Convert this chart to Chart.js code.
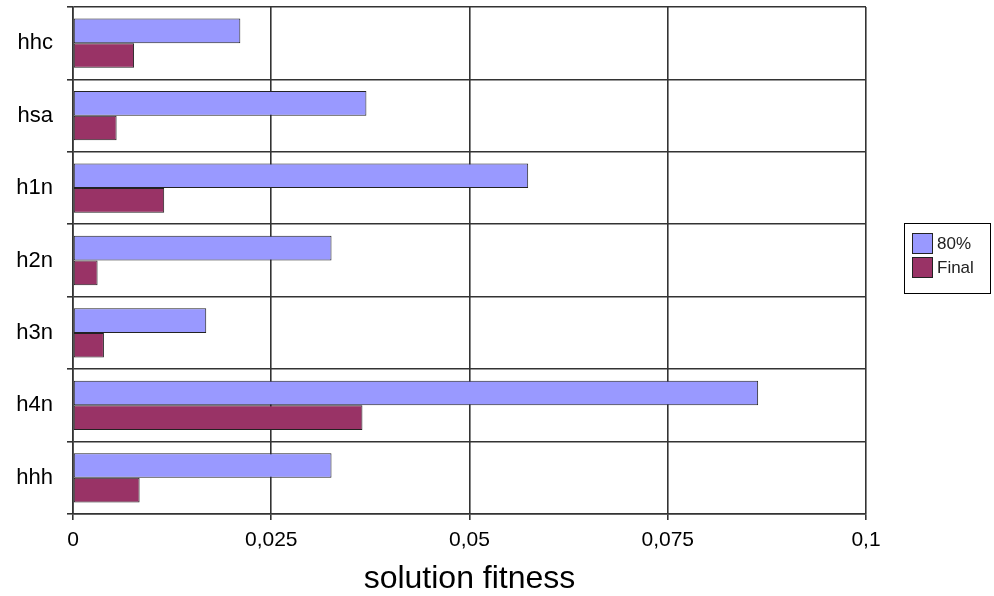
<!DOCTYPE html>
<html>
<head>
<meta charset="utf-8">
<script src="https://cdn.jsdelivr.net/npm/chart.js"></script>
<style>
    html, body { margin: 0; padding: 0; background: #fff; }
    canvas { display: block; }
</style>
</head>
<body>
<canvas id="fitnessChart" width="994" height="596"></canvas>
<script>
    // Heuristics and their fitness at 80% of the run and at the end
    const categories = ['hhc', 'hsa', 'h1n', 'h2n', 'h3n', 'h4n', 'hhh'];
    const fitness80 = [0.0211, 0.0370, 0.0574, 0.0326, 0.0168, 0.0864, 0.0326];
    const fitnessFinal = [0.0077, 0.0055, 0.0115, 0.0031, 0.0039, 0.0365, 0.0084];
    const xTicks = [0, 0.025, 0.05, 0.075, 0.1];

    const FONT = "'Liberation Sans', Arial, sans-serif";
    const LINE = '#333';

    // Boxed legend to the right of the plot
    const boxLegend = {
        id: 'boxLegend',
        afterDraw(chart) {
            const ctx = chart.ctx;
            const left = 904, top = 223, w = 86, h = 70;
            ctx.save();
            ctx.strokeStyle = '#000';
            ctx.lineWidth = 1;
            ctx.strokeRect(left + 0.5, top + 0.5, w, h);
            ctx.font = '17px ' + FONT;
            ctx.textBaseline = 'middle';
            chart.data.datasets.forEach((ds, i) => {
                const y = top + 10 + i * 24;
                ctx.fillStyle = ds.backgroundColor;
                ctx.fillRect(left + 8.5, y + 0.5, 20, 20);
                ctx.strokeStyle = '#222';
                ctx.strokeRect(left + 8.5, y + 0.5, 20, 20);
                ctx.fillStyle = '#222';
                ctx.fillText(ds.label, left + 33, y + 11);
            });
            ctx.restore();
        }
    };

    new Chart(document.getElementById('fitnessChart'), {
        type: 'bar',
        data: {
            labels: categories,
            datasets: [
                {
                    label: '80%',
                    data: fitness80,
                    backgroundColor: '#9999FF',
                    borderColor: '#222',
                    borderWidth: 1,
                    borderSkipped: false
                },
                {
                    label: 'Final',
                    data: fitnessFinal,
                    backgroundColor: '#993366',
                    borderColor: '#222',
                    borderWidth: 1,
                    borderSkipped: false
                }
            ]
        },
        options: {
            indexAxis: 'y',
            responsive: false,
            animation: false,
            devicePixelRatio: 1,
            categoryPercentage: 0.68,
            barPercentage: 1.0,
            layout: { padding: { left: 0, top: 7, right: 128, bottom: 0 } },
            plugins: {
                legend: { display: false },
                tooltip: { enabled: false }
            },
            scales: {
                x: {
                    min: 0,
                    max: 0.1,
                    afterBuildTicks: scale => {
                        scale.ticks = xTicks.map(v => ({ value: v }));
                    },
                    afterFit: scale => {
                        scale.height = 82;
                        scale.paddingLeft = 0;
                        scale.paddingRight = 0;
                    },
                    grid: { color: LINE, lineWidth: 1.6, tickLength: 6 },
                    border: { color: LINE, width: 1.6 },
                    ticks: {
                        color: '#000',
                        padding: 8,
                        font: { family: FONT, size: 21 },
                        callback: v => String(Math.round(v * 1000) / 1000).replace('.', ',')
                    },
                    title: {
                        display: true,
                        text: 'solution fitness',
                        color: '#000',
                        padding: { top: 2, bottom: -2 },
                        font: { family: FONT, size: 32 }
                    }
                },
                y: {
                    afterFit: scale => {
                        scale.width = 73;
                        scale.paddingTop = 0;
                        scale.paddingBottom = 0;
                    },
                    grid: { color: LINE, lineWidth: 1.6, tickLength: 6, offset: true },
                    border: { color: LINE, width: 1.6 },
                    ticks: {
                        color: '#000',
                        padding: 14,
                        font: { family: FONT, size: 22 }
                    }
                }
            }
        },
        plugins: [boxLegend]
    });
</script>
</body>
</html>
